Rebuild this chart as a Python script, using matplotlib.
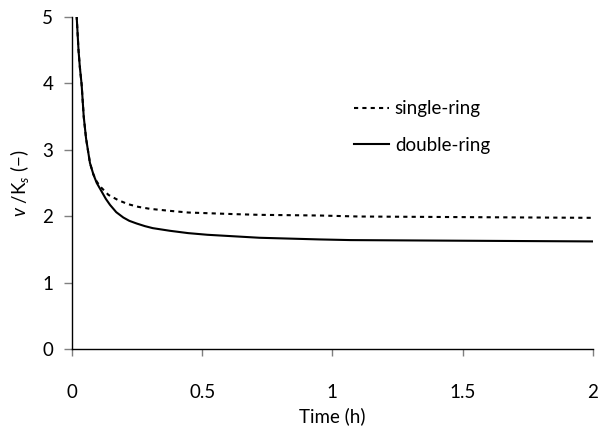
import matplotlib
matplotlib.use("Agg")
import matplotlib.pyplot as plt

plt.rcParams["font.family"] = ["Lato", "DejaVu Sans"]
plt.rcParams["mathtext.fontset"] = "custom"
plt.rcParams["mathtext.rm"] = "Lato"
plt.rcParams["mathtext.it"] = "Lato:italic"

# double-ring (solid)
t_double = [0.015, 0.018, 0.025, 0.03, 0.037, 0.045, 0.054, 0.069, 0.082, 0.095,
            0.114, 0.13, 0.146, 0.17, 0.197, 0.22, 0.248, 0.28, 0.31, 0.376,
            0.446, 0.52, 0.72, 0.95, 1.07, 1.52, 2.0]
v_double = [5.3, 5.0, 4.5, 4.25, 3.98, 3.5, 3.17, 2.80, 2.63, 2.50,
            2.37, 2.26, 2.17, 2.06, 1.98, 1.93, 1.89, 1.85, 1.82, 1.78,
            1.745, 1.72, 1.675, 1.65, 1.64, 1.63, 1.62]

# single-ring (dashed)
t_single = [0.015, 0.018, 0.025, 0.03, 0.037, 0.045, 0.054, 0.069, 0.082, 0.095,
            0.11, 0.14, 0.178, 0.216, 0.255, 0.30, 0.376, 0.446, 0.63, 0.72,
            0.95, 1.1, 1.54, 2.0]
v_single = [5.3, 5.0, 4.5, 4.25, 3.98, 3.5, 3.17, 2.80, 2.63, 2.52,
            2.44, 2.32, 2.24, 2.18, 2.14, 2.11, 2.08, 2.055, 2.03, 2.02,
            2.01, 1.995, 1.985, 1.975]

fig = plt.figure(figsize=(6.0, 4.32), dpi=100)
ax = fig.add_axes([0.12, 0.192, 0.868, 0.769])

ax.plot(t_single, v_single, color="black", lw=1.5, linestyle=(0, (2, 2)),
        label="single-ring")
ax.plot(t_double, v_double, color="black", lw=1.5, label="double-ring")

ax.set_xlim(0, 2)
ax.set_ylim(0, 5)
ax.set_xticks([0, 0.5, 1, 1.5, 2])
ax.set_xticklabels(["0", "0.5", "1", "1.5", "2"])
ax.set_yticks([0, 1, 2, 3, 4, 5])

for side in ["top", "right"]:
    ax.spines[side].set_visible(False)
for side in ["left", "bottom"]:
    ax.spines[side].set_linewidth(1.0)

ax.tick_params(axis="x", direction="out", length=5, width=1, color="#808080",
               labelsize=13.5, pad=20)
ax.tick_params(axis="y", direction="out", length=5.5, width=1, color="#808080",
               labelsize=13.5, pad=8)

ax.set_xlabel("Time (h)", fontsize=13.5, labelpad=5)
ax.set_ylabel(r"$\mathit{v}$ /K$_s$ (−)", fontsize=13.5, labelpad=8)

ax.legend(loc="upper left", bbox_to_anchor=(0.562, 0.807), bbox_transform=fig.transFigure,
          frameon=False, fontsize=13.5, handlelength=1.87, handletextpad=0.3,
          labelspacing=1.05)

fig.savefig("out.png", dpi=100)
